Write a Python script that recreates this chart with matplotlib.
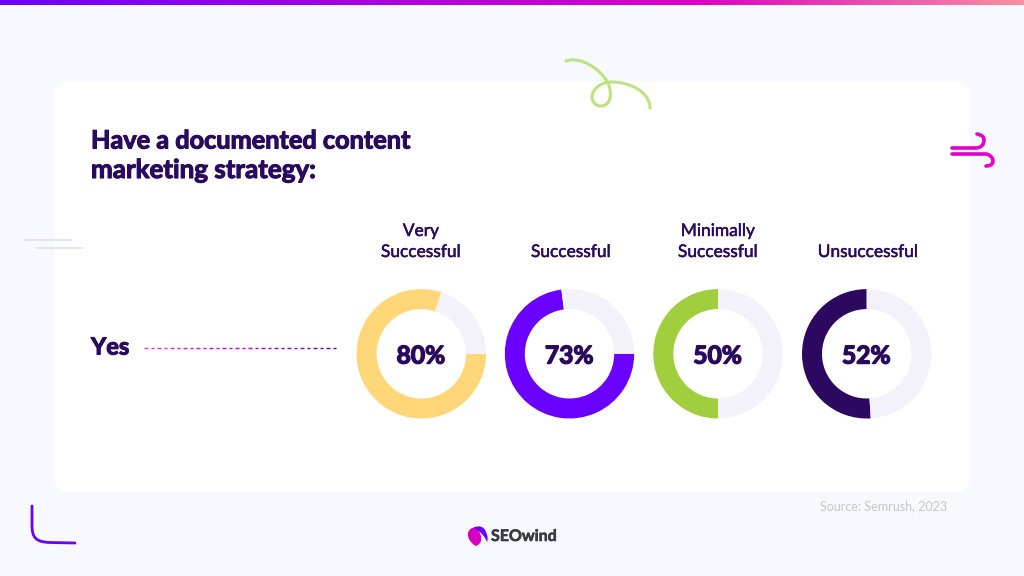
import numpy as np
import matplotlib
matplotlib.use("Agg")
import matplotlib.pyplot as plt
import matplotlib.patheffects as pe
from matplotlib.patches import FancyBboxPatch, PathPatch
from matplotlib.path import Path
from matplotlib.collections import LineCollection
from matplotlib.colors import LinearSegmentedColormap

plt.rcParams['font.family'] = ['Lato', 'DejaVu Sans']

title_lines = ["Have a documented content", "marketing strategy:"]
row_label = "Yes"
categories = ["Very\nSuccessful", "Successful", "Minimally\nSuccessful", "Unsuccessful"]
values = [80, 73, 50, 52]
# share of each ring as drawn in the picture (the last ring is drawn a little short of its label)
arc_values = [80, 73, 50, 51]
source = "Source: Semrush, 2023"
brand = "SEOwind"

colors = ["#FFD778", "#6A00FF", "#A0CE3C", "#2C0860"]
# angles as seen on screen; the y axis is inverted, so pie() gets them mirrored
start_angles = [0, 0, 90, 90]
clockwise = [True, True, False, False]
x_centers = [421.3, 569.5, 718, 866.7]
label_x = [421, 571, 718, 868]
INK = "#2A0A5E"
TRACK = "#F3F2FB"
BG = "#F8F9FF"

fig = plt.figure(figsize=(10.24, 5.76), dpi=100, facecolor=BG)
ax = fig.add_axes([0, 0, 1, 1])

# top gradient bar
bar = LinearSegmentedColormap.from_list(
    "bar", [(0, "#6E00FF"), (0.68, "#DC00C4"), (1, "#F890A0")])
ax.imshow(np.linspace(0, 1, 1024)[None, :], cmap=bar, extent=(0, 1024, 5.5, 0), aspect='auto', zorder=1)

# card
ax.add_patch(FancyBboxPatch((54, 82), 916, 410, boxstyle="round,pad=0,rounding_size=16", fc="white", ec="none",
                            zorder=1))


def curve(verts, codes, color, lw):
    ax.add_patch(PathPatch(Path(verts, codes), fc="none", ec=color, lw=lw,
                           capstyle="round", joinstyle="round", zorder=2))


def heavy(w):
    return [pe.withStroke(linewidth=w, foreground=INK)]


M, L, C = Path.MOVETO, Path.LINETO, Path.CURVE4
# green curl
curve([(566, 61), (580, 56), (600, 68), (608, 83),
       (613, 95), (610, 106), (601, 106),
       (595, 106), (592, 101), (592, 97),
       (592, 90), (600, 82), (612, 82),
       (630, 82), (650, 92), (650, 108)],
      [M] + [C] * 15, "#BDE27F", 2.2)
# wind icon
curve([(952, 148), (975, 148), (982, 148), (984, 144), (984, 140), (984, 136), (981, 135), (977, 134)],
      [M, L, C, C, C, C, C, C], "#E300C8", 2.6)
curve([(952, 154), (985, 154), (990, 154), (993, 158), (993, 161), (993, 165), (989, 166), (986, 166)],
      [M, L, C, C, C, C, C, C], "#E300C8", 2.6)
# pale dashes
curve([(25, 240), (71, 240)], [M, L], "#E4E4F8", 1.6)
curve([(37, 248), (82, 248)], [M, L], "#E4E4F8", 1.6)
# corner bracket
curve([(32, 506), (32, 525), (32, 538), (36, 542), (50, 542.5), (75, 543)], [M, L, C, C, C, L], "#6A00FF", 2.0)

# titles
for y, line, fs in zip([141, 170], title_lines, [18.2, 18.7]):
    ax.text(91, y, line, color=INK, fontsize=fs, fontweight="bold", ha="left", va="center", zorder=3,
            path_effects=heavy(0.8))
ax.text(91, 347, row_label, color=INK, fontsize=17, fontweight="bold", ha="left", va="center", zorder=3,
        path_effects=heavy(0.8))

# gradient dashed line
starts = np.arange(144, 338, 6.5)
segs = [[(s, 347.5), (s + 3.8, 347.5)] for s in starts]
dash = LinearSegmentedColormap.from_list("d", ["#F03AA0", "#E000D0", "#8A00F0", "#4A10A0"])
ax.add_collection(LineCollection(segs, colors=dash(np.linspace(0, 1, len(segs))), linewidths=1.0, zorder=3))

# donuts
for xc, lx, cat, v, a, col, sa, cw in zip(x_centers, label_x, categories, values, arc_values, colors,
                                          start_angles, clockwise):
    ax.pie([a, 100 - a], colors=[col, TRACK], startangle=-sa, counterclock=cw, center=(xc, 353.8), radius=64.7,
           wedgeprops=dict(width=20, linewidth=0), frame=True)
    ax.text(xc - 0.3, 356, f"{v}%", color=INK, fontsize=17.7, fontweight="bold", ha="center", va="center", zorder=4,
            path_effects=heavy(1.0))
    parts = cat.split("\n")
    ax.text(lx, 252, parts[-1], color=INK, fontsize=12.5, ha="center", va="center", zorder=4,
            path_effects=heavy(0.35))
    if len(parts) > 1:
        ax.text(lx, 231, parts[0], color=INK, fontsize=12.5, ha="center", va="center", zorder=4,
                path_effects=heavy(0.35))

ax.text(947, 506, source, color="#C4C6D2", fontsize=9, ha="right", va="center", zorder=3)

# logo
ax.add_patch(PathPatch(Path([(476, 546), (470, 543), (467, 537), (468, 533), (469, 529), (472, 527), (476, 528),
                             (480, 531), (482, 537), (481, 541), (480, 544), (478, 545), (476, 546)],
                            [M] + [C] * 12), fc="#D800C0", ec="none", zorder=3))
ax.add_patch(PathPatch(Path([(473, 528), (478, 525), (484, 526), (486, 532), (488, 536), (488, 540), (487, 542),
                             (485, 537), (481, 531), (473, 528)],
                            [M] + [C] * 9), fc="#6A00FF", ec="none", zorder=3))
ax.text(491, 537, brand, color="#3A3A44", fontsize=11.5, fontweight="bold", ha="left", va="center", zorder=3,
        path_effects=[pe.withStroke(linewidth=0.4, foreground="#3A3A44")])

ax.set_xlim(0, 1024)
ax.set_ylim(576, 0)
ax.set_aspect('auto')
ax.axis("off")
fig.savefig("out.png", dpi=100, facecolor=BG)
